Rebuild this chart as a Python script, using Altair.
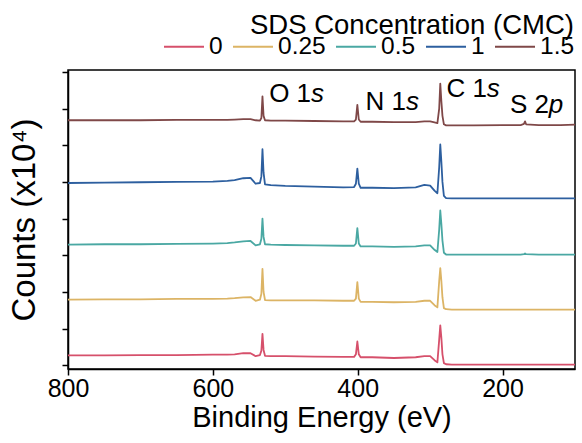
import altair as alt
import pandas as pd

FONT = "Liberation Sans"

# Binding energy grid (eV)
energy = [800, 750, 700, 650, 600, 580, 570, 558, 548, 541, 535, 533, 531.5, 530, 528,
          520, 500, 460, 420, 405, 402.5, 400.5, 398.5, 396, 380, 350, 320, 308, 300,
          294, 290, 287.5, 286, 284.5, 283, 281, 278, 270, 240, 200, 175, 170.5, 169,
          167.5, 150, 120, 100]

series_names = ["0", "0.25", "0.5", "1", "1.5"]

counts_0 = [0.27, 0.27, 0.28, 0.28, 0.29, 0.29, 0.30, 0.33, 0.33, 0.25, 0.28, 0.40, 0.86, 0.42, 0.26,
            0.25, 0.25, 0.24, 0.23, 0.23, 0.30, 0.65, 0.30, 0.22, 0.22, 0.20, 0.22, 0.25, 0.25,
            0.14, 0.08, 0.70, 1.09, 0.75, 0.30, 0.06, 0.03, 0.02, 0.02, 0.02, 0.02, 0.02, 0.02,
            0.02, 0.02, 0.02, 0.02]
counts_025 = [1.79, 1.80, 1.80, 1.81, 1.81, 1.82, 1.83, 1.85, 1.86, 1.76, 1.79, 1.95, 2.63, 2.00, 1.78,
              1.77, 1.77, 1.77, 1.76, 1.76, 1.82, 2.27, 1.82, 1.73, 1.73, 1.72, 1.73, 1.76, 1.76,
              1.64, 1.58, 2.30, 2.65, 2.30, 1.85, 1.56, 1.53, 1.52, 1.52, 1.52, 1.52, 1.52, 1.52,
              1.52, 1.52, 1.52, 1.52]
counts_05 = [3.29, 3.30, 3.30, 3.31, 3.32, 3.33, 3.35, 3.38, 3.39, 3.27, 3.30, 3.45, 4.00, 3.50, 3.30,
             3.29, 3.28, 3.27, 3.26, 3.26, 3.32, 3.74, 3.32, 3.24, 3.24, 3.23, 3.24, 3.27, 3.27,
             3.15, 3.09, 3.70, 4.22, 3.85, 3.40, 3.07, 3.02, 3.02, 3.02, 3.02, 3.02, 3.03, 3.05,
             3.03, 3.02, 3.02, 3.02]
counts_1 = [4.97, 4.98, 4.99, 5.00, 5.01, 5.03, 5.05, 5.10, 5.11, 4.95, 4.97, 5.15, 5.89, 5.25, 4.93,
            4.91, 4.89, 4.87, 4.85, 4.86, 4.95, 5.36, 4.95, 4.84, 4.84, 4.83, 4.85, 4.92, 4.90,
            4.76, 4.69, 5.40, 6.02, 5.55, 5.00, 4.62, 4.56, 4.55, 4.55, 4.55, 4.55, 4.55, 4.55,
            4.55, 4.55, 4.55, 4.55]
counts_15 = [6.68, 6.68, 6.68, 6.69, 6.69, 6.69, 6.70, 6.71, 6.71, 6.68, 6.67, 6.74, 7.33, 6.80, 6.68,
             6.67, 6.67, 6.66, 6.65, 6.65, 6.70, 7.10, 6.70, 6.64, 6.64, 6.63, 6.63, 6.65, 6.65,
             6.62, 6.60, 7.00, 7.68, 7.20, 6.80, 6.57, 6.54, 6.54, 6.54, 6.55, 6.55, 6.58, 6.65,
             6.57, 6.55, 6.55, 6.56]

colors = ["#d6506b", "#dcb465", "#4aa8a3", "#2d5f9f", "#7f4848"]

# Peak annotations (normal part + italic orbital letter)
ann_text = ["O 1", "N 1", "C 1", "S 2"]
ann_energy = [522.3, 389.1, 277.5, 189.8]
ann_counts = [7.18, 6.97, 7.32, 6.87]
ann_ital = ["s", "s", "s", "p"]
ann_ital_energy = [464.6, 333.3, 221.8, 136.1]

y_ticks = [0, 1, 2, 3, 4, 5, 6, 7, 8]
x_ticks = [800, 600, 400, 200]

rows = []
for name, vals in zip(series_names, [counts_0, counts_025, counts_05, counts_1, counts_15]):
    for e, v in zip(energy, vals):
        rows.append({"energy": e, "counts": v, "conc": name})
df = pd.DataFrame(rows)

ann_df = pd.DataFrame({"energy": ann_energy, "counts": ann_counts, "label": ann_text})
ital_df = pd.DataFrame({"energy": ann_ital_energy, "counts": ann_counts, "label": ann_ital})

x_enc = alt.X("energy:Q",
              scale=alt.Scale(domain=[100, 800], reverse=True, nice=False, zero=False),
              axis=alt.Axis(values=x_ticks, tickCount=10, labelFontSize=25, labelPadding=1,
                            labelFlush=False, labelOverlap=False, titleFontSize=29,
                            titlePadding=2, tickSize=6, format="d"),
              title="Binding Energy (eV)")
y_enc = alt.Y("counts:Q",
              scale=alt.Scale(domain=[-0.1, 8.05], nice=False, zero=False),
              axis=alt.Axis(values=y_ticks, tickCount=20, labels=False, labelFlush=False,
                            labelOverlap=False, tickSize=6, titleFontSize=33, titlePadding=20),
              title="Counts (x10\u2074)")

lines = alt.Chart(df).mark_line(strokeWidth=1.8, strokeJoin="round").encode(
    x=x_enc,
    y=y_enc,
    color=alt.Color("conc:N",
                    scale=alt.Scale(domain=series_names, range=colors),
                    sort=series_names,
                    legend=alt.Legend(title="SDS Concentration (CMC)", orient="none",
                                      legendX=95, legendY=-58, direction="horizontal",
                                      titleAnchor="end", symbolType="stroke", symbolSize=1600,
                                      symbolStrokeWidth=2, labelFontSize=24.5, titleFontSize=27.5,
                                      labelOffset=4, columnPadding=6, titlePadding=-14,
                                      titleLimit=600, labelLimit=200,
                                      titleFontWeight="normal")),
)

normal_txt = alt.Chart(ann_df).mark_text(align="left", baseline="alphabetic", fontSize=26,
                                         font=FONT, color="black").encode(
    x="energy:Q", y="counts:Q", text="label:N")
ital_txt = alt.Chart(ital_df).mark_text(align="left", baseline="alphabetic", fontSize=26,
                                        font=FONT, fontStyle="italic", color="black").encode(
    x="energy:Q", y="counts:Q", text="label:N")

chart = alt.layer(lines, normal_txt, ital_txt).properties(
    width=507, height=299,
    autosize=alt.AutoSizeParams(type="none"),
    padding={"left": 68, "top": 70, "right": 7, "bottom": 74},
).configure(font=FONT).configure_view(
    stroke="black", strokeWidth=1.5
).configure_axis(
    domainColor="black", domainWidth=1.5, tickColor="black", tickWidth=1.5,
    grid=False, labelColor="black", titleColor="black", titleFontWeight="normal",
    labelFont=FONT, titleFont=FONT
).configure_legend(
    labelFont=FONT, titleFont=FONT, labelColor="black", titleColor="black"
)

chart.save("out.html", embed_options={"renderer": "svg", "actions": False})
